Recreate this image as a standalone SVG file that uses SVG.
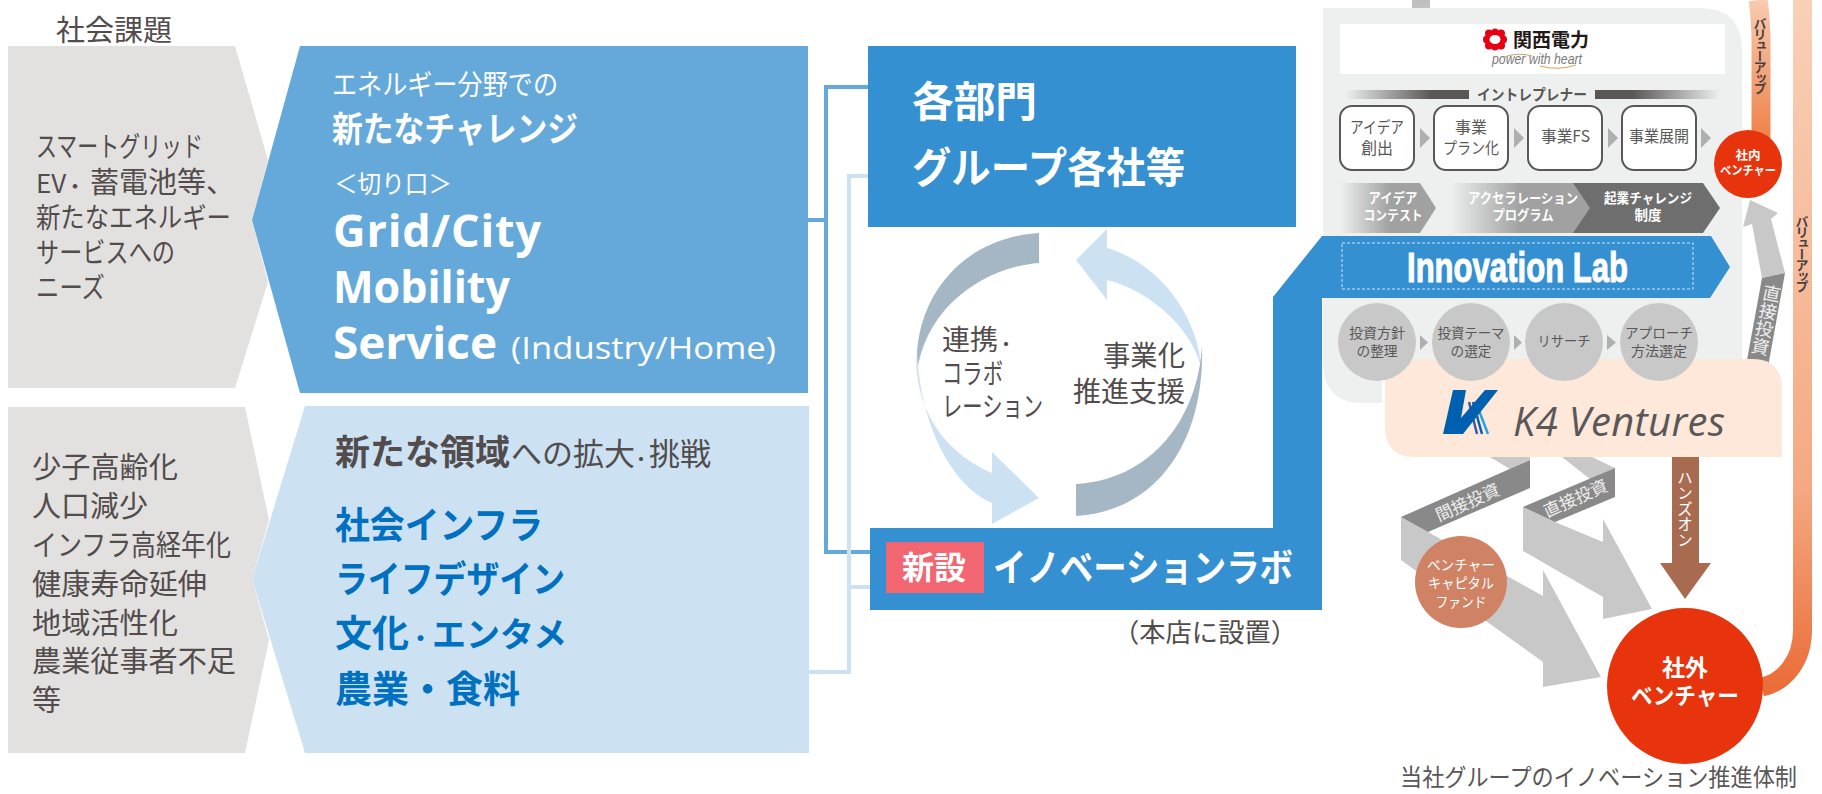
<svg xmlns="http://www.w3.org/2000/svg" width="1822" height="794" viewBox="0 0 1822 794">
<style>
text{font-family:"Noto Sans CJK JP","Noto Sans",sans-serif;fill:#524c4c}
.b{font-weight:700}
.w{fill:#fff}
.m{text-anchor:middle}
.en{font-family:"Open Sans","Noto Sans CJK JP",sans-serif}
.g{fill:#e2e1e0}
.lg{fill:#c8c8c8}
.dg{fill:#898989}
.tri{fill:#aeb0b0}
.blue{fill:#3490d0}
.rb{fill:#fff;stroke:#595757;stroke-width:2}
.t17{font-size:16px;fill:#595757}
.t14{font-size:14px;fill:#595757}
.t13{font-size:13.5px;font-weight:700;fill:#fff;text-anchor:middle}
.v{writing-mode:vertical-rl;text-anchor:middle}
.t28{font-size:28px}
.t29{font-size:29px}
.t37{font-size:37px;font-weight:700;fill:#0070c0}
</style>
<defs>
<linearGradient id="fadeR" x1="0" x2="1" y1="0" y2="0"><stop offset="0" stop-color="#5a5656" stop-opacity="0"/><stop offset="0.7" stop-color="#5a5656"/></linearGradient>
<linearGradient id="fadeL" x1="1" x2="0" y1="0" y2="0"><stop offset="0" stop-color="#5a5656" stop-opacity="0"/><stop offset="0.7" stop-color="#5a5656"/></linearGradient>
<linearGradient id="chev1" gradientUnits="userSpaceOnUse" x1="1340" x2="1390" y1="0" y2="0"><stop offset="0" stop-color="#a0a1a0" stop-opacity="0"/><stop offset="1" stop-color="#a0a1a0"/></linearGradient>
<linearGradient id="chev2" gradientUnits="userSpaceOnUse" x1="1450" x2="1520" y1="0" y2="0"><stop offset="0" stop-color="#a0a1a0" stop-opacity="0"/><stop offset="1" stop-color="#a0a1a0"/></linearGradient>
<linearGradient id="stub" x1="0" x2="0" y1="0" y2="1"><stop offset="0" stop-color="#bdbebd"/><stop offset="1" stop-color="#c8c8c8"/></linearGradient>
<linearGradient id="vu1" gradientUnits="userSpaceOnUse" x1="0" x2="0" y1="0" y2="130"><stop offset="0" stop-color="#f9cbb0"/><stop offset="1" stop-color="#f08650"/></linearGradient>
<linearGradient id="vu2" gradientUnits="userSpaceOnUse" x1="0" x2="0" y1="0" y2="697"><stop offset="0" stop-color="#f9d0b8"/><stop offset="0.7" stop-color="#f4a982"/><stop offset="1" stop-color="#ea6a35"/></linearGradient>
</defs>

<g id="connectors" fill="none" stroke-width="4">
<path d="M808 220H826M868 87H826V552H870" stroke="#65a9da"/>
<path d="M809 672H849V176H868M849 587H870" stroke="#cce2f3"/>
</g>

<text id="title" x="56" y="41" class="t29" textLength="116" lengthAdjust="spacingAndGlyphs">社会課題</text>

<g id="issue-1">
<polygon class="g" points="8,46 235,46 268,160 252,220 268,282 235,388 8,388"/>
<text x="36" y="157" class="t28" textLength="167" lengthAdjust="spacingAndGlyphs">スマートグリッド</text>
<text y="193" class="t28"><tspan x="36" font-size="26">EV</tspan><tspan x="66" font-size="18" class="b">・</tspan><tspan x="90" font-size="29">蓄電池等、</tspan></text>
<text x="36" y="228" class="t28" textLength="195" lengthAdjust="spacingAndGlyphs">新たなエネルギー</text>
<text x="36" y="263" class="t28" textLength="139" lengthAdjust="spacingAndGlyphs">サービスへの</text>
<text x="36" y="298" class="t28" textLength="69" lengthAdjust="spacingAndGlyphs">ニーズ</text>
</g>

<g id="issue-2">
<polygon class="g" points="8,407 245,407 269,520 252,579 269,640 245,753 8,753"/>
<text x="32" y="478" class="t29" textLength="146" lengthAdjust="spacingAndGlyphs">少子高齢化</text>
<text x="32" y="517" class="t29" textLength="116" lengthAdjust="spacingAndGlyphs">人口減少</text>
<text x="32" y="556" class="t29" textLength="199" lengthAdjust="spacingAndGlyphs">インフラ高経年化</text>
<text x="32" y="595" class="t29" textLength="175" lengthAdjust="spacingAndGlyphs">健康寿命延伸</text>
<text x="32" y="634" class="t29" textLength="146" lengthAdjust="spacingAndGlyphs">地域活性化</text>
<text x="32" y="672" class="t29" textLength="204" lengthAdjust="spacingAndGlyphs">農業従事者不足</text>
<text x="32" y="711" class="t29">等</text>
</g>

<g id="energy">
<polygon fill="#65a9da" points="300,46 808,46 808,393 300,393 252,220"/>
<text x="332" y="95" class="t28 w" textLength="226" lengthAdjust="spacingAndGlyphs">エネルギー分野での</text>
<text x="332" y="142" class="b w" font-size="35" textLength="246" lengthAdjust="spacingAndGlyphs">新たなチャレンジ</text>
<text x="334" y="193" class="w" font-size="25" textLength="118" lengthAdjust="spacingAndGlyphs">＜切り口＞</text>
<text x="333" y="247" class="en b w" font-size="45" textLength="208" lengthAdjust="spacing">Grid/City</text>
<text x="333" y="303" class="en b w" font-size="45" textLength="177" lengthAdjust="spacingAndGlyphs">Mobility</text>
<text x="333" y="359" class="en b w" font-size="45" textLength="164" lengthAdjust="spacingAndGlyphs">Service</text>
<text x="511" y="359" class="en w" font-size="31" textLength="265" lengthAdjust="spacingAndGlyphs">(Industry/Home)</text>
</g>

<g id="new-fields">
<polygon fill="#cce2f3" points="305,406 809,406 809,753 305,753 252,579"/>
<text y="465" font-size="31"><tspan x="335" class="b" font-size="35">新たな領域</tspan><tspan x="511">への拡大</tspan><tspan x="633" font-size="16" class="b">・</tspan><tspan x="649">挑戦</tspan></text>
<text x="335" y="539" class="t37" textLength="208" lengthAdjust="spacingAndGlyphs">社会インフラ</text>
<text x="335" y="593" class="t37" textLength="230" lengthAdjust="spacingAndGlyphs">ライフデザイン</text>
<text y="647" class="t37"><tspan x="335">文化</tspan><tspan x="409" font-size="23">・</tspan><tspan x="432" font-size="34">エンタメ</tspan></text>
<text y="703" class="t37"><tspan x="335">農業</tspan><tspan x="409">・</tspan><tspan x="446">食料</tspan></text>
</g>

<g id="departments">
<rect class="blue" x="868" y="46" width="428" height="181"/>
<text x="912" y="117" class="b w" font-size="42" textLength="125" lengthAdjust="spacingAndGlyphs">各部門</text>
<text x="912" y="183" class="b w" font-size="42" textLength="273" lengthAdjust="spacingAndGlyphs">グループ各社等</text>
</g>

<g id="cycle">
<path fill="#a5b6c4" d="M1039 233V263C980 268 925 310 917 373C912 300 960 238 1039 233Z"/>
<path fill="#cce2f3" d="M917 345C918 420 950 485 992 503V524L1039 498L992 452V473C950 455 922 420 917 373Z"/>
<path fill="#cce2f3" d="M1202 373C1198 310 1155 262 1107 248V229L1076 260L1107 300V280C1155 292 1197 335 1202 373Z"/>
<path fill="#a5b6c4" d="M1076 484V516C1150 512 1205 450 1202 345C1198 420 1150 480 1076 484Z"/>
<text y="350" class="t28"><tspan x="942">連携</tspan><tspan x="998" font-size="16" class="b">・</tspan></text>
<text x="942" y="384" class="t28" textLength="61" lengthAdjust="spacingAndGlyphs">コラボ</text>
<text x="942" y="417" class="t28" textLength="101" lengthAdjust="spacingAndGlyphs">レーション</text>
<text x="1103" y="366" class="t28" textLength="82" lengthAdjust="spacingAndGlyphs">事業化</text>
<text x="1073" y="402" class="t28" textLength="112" lengthAdjust="spacingAndGlyphs">推進支援</text>
</g>

<g id="orange-lines" fill="none">
<path d="M1758 0C1762 25 1761 40 1761 60V140" stroke="url(#vu1)" stroke-width="19"/>
<path d="M1802.5 0V630C1802.5 660 1785 682 1762 687" stroke="url(#vu2)" stroke-width="19"/>
<text x="1760" y="56" class="v b" font-size="13" style="fill:#4a4040" textLength="78">バリューアップ</text>
<text x="1802" y="254" class="v b" font-size="13" style="fill:#4a4040" textLength="78">バリューアップ</text>
</g>

<g id="company-panel">
<rect x="1412" y="0" width="18" height="24" fill="url(#stub)"/>
<path fill="#eef0f0" d="M1323 8H1700Q1742 8 1742 50V360H1382V403H1363Q1323 403 1323 363Z"/>
<rect x="1340" y="24" width="385" height="50" fill="#fff"/>
</g>

<g id="kansai-logo" fill="#e60012">
<ellipse cx="1495" cy="39.500" rx="9" ry="9"/>
<circle cx="1487" cy="39.500" r="4"/><circle cx="1503" cy="39.500" r="4"/><circle cx="1489" cy="33.500" r="4"/><circle cx="1501" cy="33.500" r="4"/><circle cx="1489" cy="45.500" r="4"/><circle cx="1501" cy="45.500" r="4"/><circle cx="1495" cy="32" r="3.500"/><circle cx="1495" cy="47" r="3.500"/>
<ellipse cx="1495" cy="39.500" rx="5.500" ry="4.500" fill="#fff"/>
<text x="1513" y="47" class="b" font-size="19" style="fill:#231815" textLength="76" lengthAdjust="spacingAndGlyphs">関西電力</text>
<text x="1492" y="64" font-size="14" font-style="italic" style="fill:#7a7a7a;font-family:'Liberation Sans',sans-serif" textLength="90" lengthAdjust="spacingAndGlyphs">power with heart</text>
<path d="M1504 57Q1518 52 1532 56" fill="none" stroke="#c9a36a" stroke-width="1"/>
<path d="M1540 66Q1558 71 1576 65" fill="none" stroke="#e0a050" stroke-width="1"/>
</g>

<g id="intrapreneur">
<rect x="1345" y="90" width="124" height="9" fill="url(#fadeR)"/>
<rect x="1595" y="90" width="125" height="9" fill="url(#fadeL)"/>
<text x="1477" y="100" class="b" font-size="15" style="fill:#595757" textLength="110" lengthAdjust="spacingAndGlyphs">イントレプレナー</text>
</g>

<g id="step-idea"><rect class="rb" x="1340" y="106" width="74" height="64" rx="12"/><text x="1377" y="133" class="t17 m" textLength="54" lengthAdjust="spacingAndGlyphs">アイデア</text><text x="1377" y="154" class="t17 m">創出</text></g>
<g id="step-plan"><rect class="rb" x="1434" y="106" width="74" height="64" rx="12"/><text x="1471" y="133" class="t17 m">事業</text><text x="1471" y="154" class="t17 m" textLength="56" lengthAdjust="spacingAndGlyphs">プラン化</text></g>
<g id="step-fs"><rect class="rb" x="1528" y="106" width="74" height="64" rx="12"/><text x="1565.500" y="142" class="t17 m" textLength="49" lengthAdjust="spacingAndGlyphs">事業FS</text></g>
<g id="step-dev"><rect class="rb" x="1622" y="106" width="74" height="64" rx="12"/><text x="1659" y="142" class="t17 m" textLength="60" lengthAdjust="spacingAndGlyphs">事業展開</text></g>
<g id="step-arrows" class="tri">
<polygon points="1420,128 1430,138 1420,148"/><polygon points="1514,128 1524,138 1514,148"/><polygon points="1608,128 1618,138 1608,148"/><polygon points="1701,128 1711,138 1701,148"/>
</g>

<g id="contest"><polygon fill="url(#chev1)" points="1340,183 1420,183 1436,208 1420,233 1340,233"/><text x="1393" y="203" class="t13" textLength="49" lengthAdjust="spacingAndGlyphs">アイデア</text><text x="1393" y="220" class="t13" textLength="59" lengthAdjust="spacingAndGlyphs">コンテスト</text></g>
<g id="accelerator"><polygon fill="url(#chev2)" points="1450,183 1576,183 1591,208 1576,233 1450,233"/></g>
<g id="challenge"><polygon fill="#6e6e6e" points="1573,183 1703,183 1720,208 1703,233 1573,233 1590,208"/><text x="1648" y="203" class="t13" textLength="88" lengthAdjust="spacingAndGlyphs">起業チャレンジ</text><text x="1648" y="220" class="t13" textLength="27" lengthAdjust="spacingAndGlyphs">制度</text></g>
<g id="accelerator-label"><text x="1523" y="203" class="t13" textLength="110" lengthAdjust="spacingAndGlyphs">アクセラレーション</text><text x="1523" y="220" class="t13" textLength="61" lengthAdjust="spacingAndGlyphs">プログラム</text></g>

<g id="innovation-lab">
<polygon class="blue" points="870,528 1273,528 1273,297 1322,236 1711,236 1730,267 1710,298 1322,298 1322,610 870,610"/>
<rect x="1342" y="243" width="351" height="46" fill="none" stroke="#cfe3f3" stroke-width="1" stroke-dasharray="3 2"/>
<text x="1407" y="282" class="b w" style="font-family:'Liberation Sans',sans-serif;stroke:#fff;stroke-width:1" font-size="42" textLength="221" lengthAdjust="spacingAndGlyphs">Innovation Lab</text>
<rect x="886" y="542" width="98" height="51" fill="#f26672"/>
<text x="902" y="579" class="b w" font-size="32" textLength="64" lengthAdjust="spacingAndGlyphs">新設</text>
<text x="993" y="581" class="b w" font-size="38" textLength="300" lengthAdjust="spacingAndGlyphs">イノベーションラボ</text>
<text x="1113" y="642" font-size="26" textLength="184" lengthAdjust="spacingAndGlyphs">（本店に設置）</text>
</g>

<g id="direct-up">
<polygon class="lg" points="1750,200 1778,213 1771,219 1785,273 1762,278 1752,224 1743,227"/>
<polygon class="dg" points="1762,278 1785,273 1768,367 1747,360"/>
<text transform="translate(1766,320) rotate(12)" x="0" y="0" class="v w" font-size="18" style="fill:#eee">直接投資</text>
</g>

<g id="k4">
<path fill="#fde8da" d="M1385 359H1752Q1782 359 1782 389V457H1415Q1385 457 1385 427Z"/>
<path d="M1469 402L1477 434" stroke="#3a55a8" stroke-width="2.500"/><path d="M1473 402L1482 434" stroke="#0060b0" stroke-width="2.500"/><path d="M1478 408L1488 434" stroke="#2aa3dc" stroke-width="2.500"/>
<polygon fill="#0060b0" points="1453,390 1466,390 1461,418 1485,390 1498,390 1463,434 1443,434"/>
<text x="1513" y="436" class="en" font-style="italic" font-size="40" style="fill:#595757" textLength="212" lengthAdjust="spacing">K4 Ventures</text>
</g>

<g id="research-steps">
<circle class="lg" cx="1377" cy="342" r="39"/><text x="1377" y="338" class="t14 m" textLength="56" lengthAdjust="spacingAndGlyphs">投資方針</text><text x="1377" y="356" class="t14 m" textLength="41" lengthAdjust="spacingAndGlyphs">の整理</text>
<circle class="lg" cx="1471" cy="342" r="39"/><text x="1471" y="338" class="t14 m" textLength="67" lengthAdjust="spacingAndGlyphs">投資テーマ</text><text x="1471" y="356" class="t14 m" textLength="41" lengthAdjust="spacingAndGlyphs">の選定</text>
<circle class="lg" cx="1564" cy="342" r="39"/><text x="1564" y="346" class="t14 m" textLength="53" lengthAdjust="spacingAndGlyphs">リサーチ</text>
<circle class="lg" cx="1659" cy="342" r="39"/><text x="1659" y="338" class="t14 m" textLength="68" lengthAdjust="spacingAndGlyphs">アプローチ</text><text x="1659" y="356" class="t14 m" textLength="56" lengthAdjust="spacingAndGlyphs">方法選定</text>
<polygon class="tri" points="1420,335 1428,342.500 1420,350"/><polygon class="tri" points="1514,335 1522,342.500 1514,350"/><polygon class="tri" points="1607,335 1616,342.500 1607,350"/>
</g>

<g id="indirect-invest">
<polygon class="lg" points="1490,457 1530,457 1530,460 1510,469"/>
<polygon class="lg" points="1401,517 1401,560 1543,662 1543,687 1601,677 1543,570 1543,596 1428,532"/>
<polygon class="dg" points="1530,460 1530,488 1428,532 1401,517"/>
<text transform="translate(1470,508) rotate(-24)" class="m" font-size="17" style="fill:#eee">間接投資</text>
<circle cx="1461" cy="582" r="46" fill="#d08264"/>
<text x="1461" y="570" class="m w" font-size="14" textLength="68" lengthAdjust="spacingAndGlyphs">ベンチャー</text><text x="1461" y="588" class="m w" font-size="14" textLength="66" lengthAdjust="spacingAndGlyphs">キャピタル</text><text x="1461" y="607" class="m w" font-size="14" textLength="51" lengthAdjust="spacingAndGlyphs">ファンド</text>
</g>

<g id="direct-invest">
<polygon class="lg" points="1562,457 1592,457 1615,468 1590,479"/>
<polygon class="lg" points="1523,507 1523,551 1603,597 1603,619 1652,609 1603,519 1603,542 1555,522"/>
<polygon class="dg" points="1615,468 1615,497 1555,522 1523,507"/>
<text transform="translate(1578,504) rotate(-24)" class="m" font-size="17" style="fill:#eee">直接投資</text>
</g>

<g id="hands-on">
<polygon fill="#a96b50" points="1672,457 1699,457 1699,563 1711,563 1685,599 1660,563 1672,563"/>
<text x="1685" y="509" class="v w" font-size="15.500">ハンズオン</text>
</g>

<g id="external-venture">
<circle cx="1685" cy="686" r="78" fill="#e8340c"/>
<text x="1685" y="676" class="b w m" font-size="23">社外</text>
<text x="1685" y="704" class="b w m" font-size="23" textLength="108" lengthAdjust="spacingAndGlyphs">ベンチャー</text>
</g>

<g id="internal-venture">
<circle cx="1748" cy="164" r="34" fill="#e8340c"/>
<text x="1748" y="160" class="b w m" font-size="12.500">社内</text>
<text x="1748" y="175" class="b w m" font-size="12.500" textLength="56" lengthAdjust="spacingAndGlyphs">ベンチャー</text>
</g>

<text id="caption" x="1400" y="786" font-size="24" style="fill:#595757" textLength="397" lengthAdjust="spacingAndGlyphs">当社グループのイノベーション推進体制</text>
</svg>
